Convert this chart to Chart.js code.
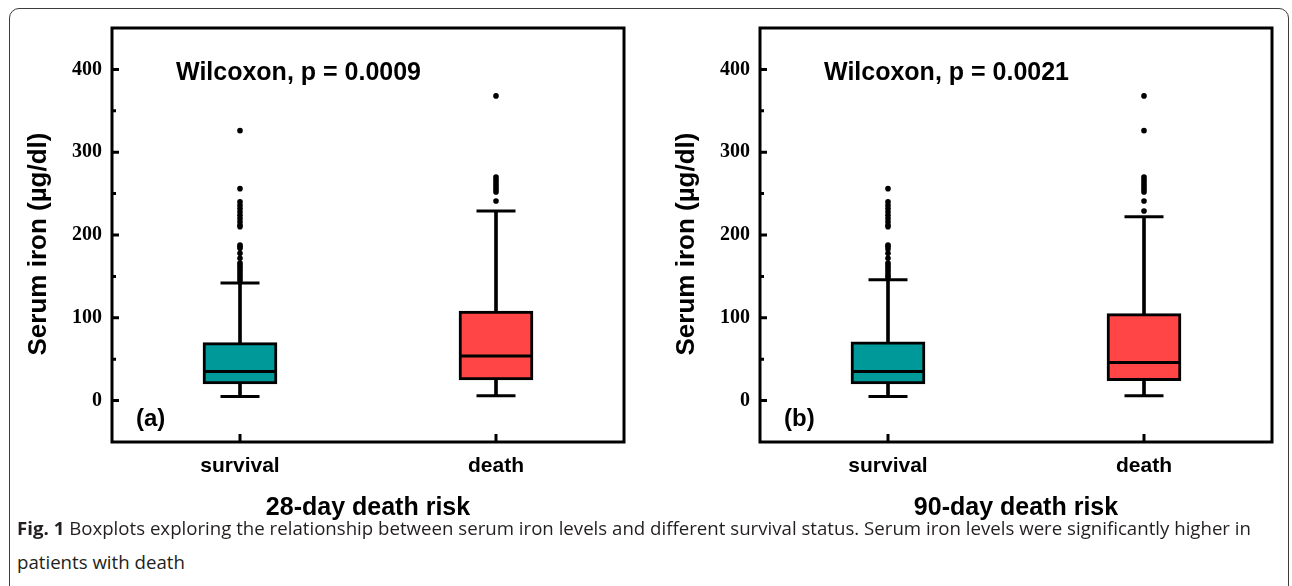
<!DOCTYPE html>
<html><head><meta charset="utf-8">
<script src="https://cdn.jsdelivr.net/npm/chart.js@4.4.1/dist/chart.umd.min.js"></script>
<style>
html,body{margin:0;padding:0;background:#fff;}
body{width:1292px;height:586px;position:relative;overflow:hidden;}
#frame{position:absolute;left:9px;top:8px;width:1280px;height:640px;border:1px solid #3c3c3c;border-radius:10px;box-sizing:border-box;}
.pane{position:absolute;top:0;width:644px;height:523px;}
#pa{left:0}
#pb{left:648px}
.cap{position:absolute;left:17px;font-family:'Open Sans';font-size:18px;color:#231f20;white-space:nowrap;transform-origin:0 50%;line-height:22px;}
.cap b{font-weight:700;}
#cap1{top:517px}
#cap2{top:551px}
</style></head><body>
<div id="frame"></div>
<div class="pane" id="pa"><canvas id="ca" width="644" height="523"></canvas></div>
<div class="pane" id="pb"><canvas id="cb" width="644" height="523"></canvas></div>
<div class="cap" id="cap1"><b>Fig. 1</b> Boxplots exploring the relationship between serum iron levels and different survival status. Serum iron levels were significantly higher in</div>
<div class="cap" id="cap2">patients with death</div>
<script>
const categories = ['survival', 'death'];
const yTickValues = [0, 100, 200, 300, 400];
const yMinorTickValues = [50, 150, 250, 350];
const boxColors = ['#009999', '#FF4545'];

// Panel (a): 28-day death risk
const aMin = [5, 6];
const aQ1 = [20, 25];
const aMedian = [35, 54];
const aQ3 = [70, 108];
const aMax = [142, 229];
const aOutSurvival = [326, 256, 240, 236, 232, 228, 224, 220, 216, 212, 210, 188, 186, 184, 178, 172, 166, 163, 160, 157, 154, 151, 148, 145];
const aOutDeath = [368, 270, 267, 264, 261, 258, 255, 252, 241];

// Panel (b): 90-day death risk
const bMin = [5, 6];
const bQ1 = [20, 24];
const bMedian = [35, 46];
const bQ3 = [71, 105];
const bMax = [146, 222];
const bOutSurvival = [256, 240, 236, 232, 228, 224, 220, 216, 212, 210, 188, 186, 183, 178, 172, 166, 163, 160, 157, 154, 151, 149];
const bOutDeath = [368, 326, 270, 267, 264, 261, 258, 255, 252, 241, 229];

Chart.defaults.font.family = '"Liberation Sans", Arial, sans-serif';
Chart.defaults.color = '#000';

const framePlugin = {
  id: 'frameTicks',
  afterDraw(chart) {
    const {ctx, chartArea: a, scales} = chart;
    ctx.save();
    ctx.strokeStyle = '#000';
    ctx.lineWidth = 3;
    ctx.lineCap = 'butt';
    ctx.strokeRect(a.left, a.top, a.right - a.left, a.bottom - a.top);
    ctx.beginPath();
    yTickValues.forEach(v => {
      const y = scales.y.getPixelForValue(v);
      ctx.moveTo(a.left, y); ctx.lineTo(a.left + 7, y);
    });
    yMinorTickValues.forEach(v => {
      const y = scales.y.getPixelForValue(v);
      ctx.moveTo(a.left, y); ctx.lineTo(a.left + 4, y);
    });
    categories.forEach((c, i) => {
      const x = scales.x.getPixelForValue(i);
      ctx.moveTo(x, a.bottom); ctx.lineTo(x, a.bottom - 8);
    });
    ctx.stroke();
    ctx.restore();
  }
};

const textPlugin = {
  id: 'panelTexts',
  afterDraw(chart) {
    const {ctx, chartArea: a} = chart;
    const t = chart.options.plugins.panelTexts;
    ctx.save();
    ctx.fillStyle = '#000';
    ctx.textBaseline = 'alphabetic';
    ctx.textAlign = 'left';
    ctx.font = 'bold 25px "Liberation Sans"';
    ctx.fillText(t.stat, a.left + 64, a.top + 52);
    ctx.font = 'bold 24px "Liberation Sans"';
    ctx.fillText(t.letter, a.left + 24, a.bottom - 16);
    ctx.translate(a.left - 73, (a.top + a.bottom) / 2 + 9);
    ctx.rotate(-Math.PI / 2);
    ctx.textAlign = 'center';
    ctx.textBaseline = 'middle';
    ctx.font = 'bold 26px "Liberation Sans"';
    ctx.fillText(t.yTitle, 0, 0);
    ctx.restore();
  }
};

function makeChart(id, mins, q1, med, q3, maxs, outS, outD, stat, letter, xTitle) {
  const outliers = outS.map(v => ({x: categories[0], y: v}))
    .concat(outD.map(v => ({x: categories[1], y: v})));
  return new Chart(document.getElementById(id), {
    type: 'bar',
    data: {
      labels: categories,
      datasets: [
        { type: 'bar', label: 'box', data: categories.map((c, i) => [q1[i], q3[i]]),
          backgroundColor: boxColors, borderColor: '#000', borderWidth: 3, borderSkipped: false,
          barThickness: 74, grouped: false, order: 2 },
        { type: 'bar', label: 'upper whisker', data: categories.map((c, i) => [q3[i], maxs[i]]),
          backgroundColor: '#000', borderWidth: 0, barThickness: 3, grouped: false, order: 3 },
        { type: 'bar', label: 'lower whisker', data: categories.map((c, i) => [mins[i], q1[i]]),
          backgroundColor: '#000', borderWidth: 0, barThickness: 3, grouped: false, order: 3 },
        { type: 'line', label: 'max cap', data: maxs, showLine: false, pointStyle: 'line',
          pointRadius: 19.5, pointBorderWidth: 3, pointBorderColor: '#000', order: 1 },
        { type: 'line', label: 'min cap', data: mins, showLine: false, pointStyle: 'line',
          pointRadius: 19.5, pointBorderWidth: 3, pointBorderColor: '#000', order: 1 },
        { type: 'line', label: 'median', data: med, showLine: false, pointStyle: 'line',
          pointRadius: 37, pointBorderWidth: 3, pointBorderColor: '#000', order: 0 },
        { type: 'line', label: 'outliers', data: outliers, showLine: false, pointStyle: 'circle',
          pointRadius: 2.8, pointBorderWidth: 0, pointBackgroundColor: '#000', order: 1 }
      ]
    },
    options: {
      responsive: false,
      animation: false,
      events: [],
      devicePixelRatio: 1,
      layout: { autoPadding: false, padding: { left: 0, top: 28, right: 20, bottom: 0 } },
      plugins: {
        legend: { display: false },
        tooltip: { enabled: false },
        panelTexts: { stat: stat, letter: letter, yTitle: 'Serum iron (µg/dl)' }
      },
      scales: {
        x: {
          type: 'category', offset: true,
          grid: { display: false, drawTicks: false }, border: { display: false },
          ticks: { padding: 12, font: { size: 21, weight: 'bold' }, color: '#000' },
          title: { display: true, text: xTitle, font: { size: 25, weight: 'bold' }, color: '#000',
                   padding: { top: 0, bottom: 0 } },
          afterFit(s) { s.height = 81; s.paddingLeft = 0; s.paddingRight = 0; }
        },
        y: {
          type: 'linear', min: -50, max: 450,
          grid: { display: false, drawTicks: false }, border: { display: false },
          ticks: { padding: 10, font: { family: '"Liberation Serif"', size: 20, weight: 'bold' }, color: '#000' },
          afterBuildTicks(s) { s.ticks = yTickValues.map(v => ({ value: v })); },
          afterFit(s) { s.width = 112; s.paddingTop = 0; s.paddingBottom = 0; }
        }
      }
    },
    plugins: [framePlugin, textPlugin]
  });
}

makeChart('ca', aMin, aQ1, aMedian, aQ3, aMax, aOutSurvival, aOutDeath, 'Wilcoxon, p = 0.0009', '(a)', '28-day death risk');
makeChart('cb', bMin, bQ1, bMedian, bQ3, bMax, bOutSurvival, bOutDeath, 'Wilcoxon, p = 0.0021', '(b)', '90-day death risk');

function fitCaption() {
  const c1 = document.getElementById('cap1');
  const c2 = document.getElementById('cap2');
  c1.style.transform = 'none'; c2.style.transform = 'none';
  const w = c1.getBoundingClientRect().width;
  const k = 1234 / w;
  c1.style.transform = 'scaleX(' + k + ')';
  c2.style.transform = 'scaleX(' + k + ')';
}
fitCaption();
if (document.fonts && document.fonts.ready) document.fonts.ready.then(fitCaption);
</script>
</body></html>
